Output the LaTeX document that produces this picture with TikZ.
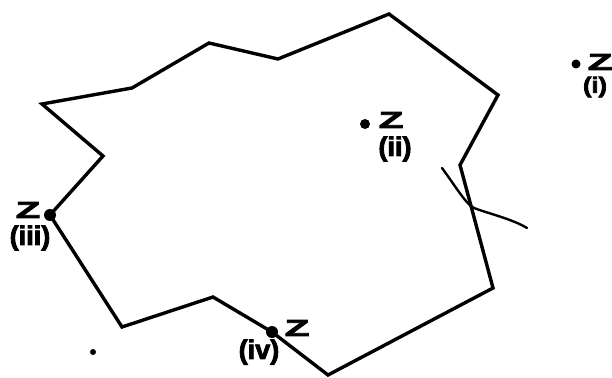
\documentclass[tikz,border=0pt]{standalone}
\usepackage{fontspec}
\usepackage{graphicx}
\setmainfont{Liberation Sans}
\newfontfamily\heavyfont[FakeBold=3]{Liberation Sans}
\tikzset{
  edge/.style={line width=3.4pt, line join=miter, line cap=round},
  dotpt/.style={circle, fill=black, inner sep=0pt, minimum size=#1},
  zlab/.style={inner sep=0pt},
  plab/.style={inner sep=0pt}
}
\newcommand{\wideZ}{{\heavyfont\bfseries\fontsize{23}{23}\selectfont\scalebox{1.75}[1]{Z}}}
\newcommand{\bigpar}[1]{{\heavyfont\bfseries\fontsize{27}{27}\selectfont #1}}
\newcommand{\smallpar}[1]{{\heavyfont\bfseries\fontsize{22}{22}\selectfont\scalebox{1.15}[1]{#1}}}
\begin{document}
\begin{tikzpicture}[x=1pt,y=-1pt]
\useasboundingbox (0,0) rectangle (612,377);
% polygon vertices
\coordinate (A) at (42,104);
\coordinate (B) at (103,156);
\coordinate (C) at (50,215);
\coordinate (D) at (122,327);
\coordinate (E) at (213,297);
\coordinate (F) at (272,332);
\coordinate (G) at (328,375);
\coordinate (H) at (493,288);
\coordinate (I) at (460,165);
\coordinate (J) at (498,95);
\coordinate (K) at (389,14);
\coordinate (L) at (278,59);
\coordinate (M) at (209,43);
\coordinate (N) at (132,88);
\draw[edge] (A) -- (B) -- (C) -- (D) -- (E) -- (F) -- (G) -- (H) -- (I) -- (J) -- (K) -- (L) -- (M) -- (N) -- cycle;
% crossing stroke
\coordinate (X1) at (442,168);
\coordinate (X2) at (527,228);
\draw[line width=2.4pt, line cap=round] (X1) .. controls (458,190) and (466,204) .. (474,208)
  .. controls (490,214) and (512,219) .. (X2);
% points
\node[dotpt=9pt] (p1) at (576,64) {};
\node[zlab] (z1) at (600,62) {\wideZ};
\node[plab] (l1) at (595,87) {\smallpar{(i)}};
\node[dotpt=10pt] (p2) at (365,124) {};
\node[zlab] (z2) at (391,120) {\wideZ};
\node[plab] (l2) at (395,149) {\bigpar{(ii)}};
\node[dotpt=12pt] (p3) at (C) {};
\node[zlab] (z3) at (28,210) {\wideZ};
\node[plab] (l3) at (30,238) {\bigpar{(iii)}};
\node[dotpt=12pt] (p4) at (F) {};
\node[zlab] (z4) at (297,328) {\wideZ};
\node[plab] (l4) at (259,352) {\bigpar{(iv)}};
% stray speck
\node[dotpt=6pt] (s1) at (93,352) {};
\end{tikzpicture}
\end{document}
